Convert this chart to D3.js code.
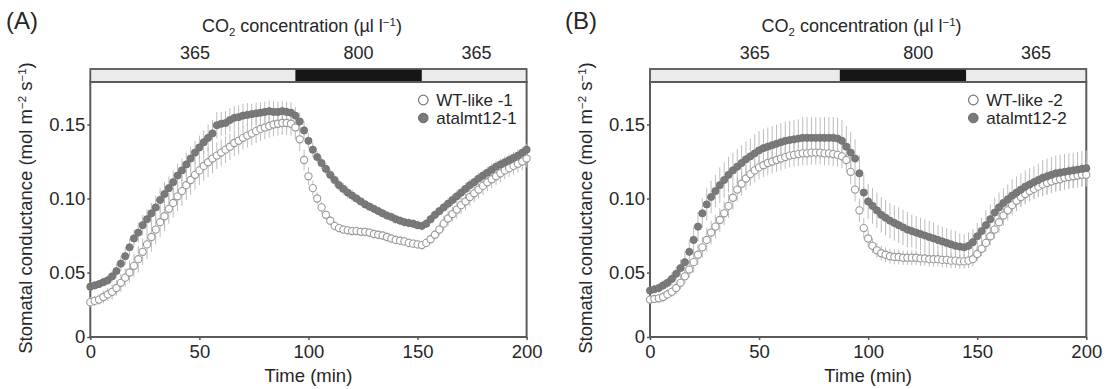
<!DOCTYPE html>
<html><head><meta charset="utf-8">
<script src="https://cdn.jsdelivr.net/npm/d3@7"></script>
<style>body{margin:0;background:#fff} text{font-family:"Liberation Sans",Arial,sans-serif;fill:#262626}</style>
</head><body><svg id="c" width="1108" height="389"></svg>
<script>
// sampling times (min)
const time = d3.range(0, 201, 2);
const xTicks = [0, 50, 100, 150, 200];
const yTicks = [0, 0.05, 0.10, 0.15];
const co2Labels = ["365", "800", "365"];

// Panel A
const mutA = [.039,.040,.041,.0425,.044,.047,.051,.056,.061,.067,
 .073,.077,.082,.086,.090,.094,.099,.103,.107,.111,
 .1155,.119,.123,.127,.131,.1345,.138,.141,.144,.1495,
 .1505,.151,.153,.1545,.155,.156,.1565,.157,.1575,.158,
 .1585,.159,.1585,.1585,.159,.1585,.158,.156,.152,.146,
 .139,.133,.128,.124,.120,.116,.1125,.109,.1065,.104,
 .102,.100,.098,.096,.0945,.093,.0915,.090,.0885,.0875,
 .086,.085,.084,.0835,.083,.082,.0815,.083,.086,.089,
 .0915,.094,.0965,.099,.1015,.104,.1065,.109,.111,.1135,
 .1155,.1175,.1195,.1215,.123,.1245,.126,.1275,.129,.131,
 .133];
const wtA = [.027,.028,.029,.031,.033,.035,.038,.042,.046,.050,
 .0545,.059,.064,.069,.074,.079,.084,.088,.093,.097,
 .1015,.105,.109,.1125,.116,.119,.122,.1245,.127,.129,
 .131,.133,.135,.1375,.139,.141,.1425,.144,.1455,.147,
 .148,.149,.150,.1505,.151,.151,.1505,.148,.140,.126,
 .115,.107,.100,.094,.089,.085,.0815,.080,.079,.0785,
 .078,.078,.0775,.0775,.077,.076,.0755,.075,.074,.073,
 .072,.0715,.071,.070,.0695,.069,.0685,.070,.0725,.0755,
 .079,.083,.0865,.0895,.0925,.0955,.098,.101,.1035,.106,
 .1085,.111,.113,.115,.117,.119,.1205,.122,.1235,.125,
 .127];
const errMutA = [.003,.003,.003,.003,.004,.004,.005,.005,.006,.006,
 .006,.007,.007,.007,.007,.008,.008,.008,.008,.008,
 .008,.008,.008,.008,.008,.008,.008,.009,.009,.009,
 .008,.008,.008,.008,.008,.008,.008,.007,.007,.007,
 .007,.007,.007,.007,.007,.007,.007,.006,.006,.006,
 .005,.005,.004,.004,.004,.004,.004,.004,.004,.004,
 .004,.003,.003,.003,.003,.003,.003,.003,.003,.003,
 .003,.003,.003,.003,.003,.003,.003,.003,.003,.003,
 .003,.003,.004,.004,.004,.004,.004,.004,.004,.004,
 .004,.004,.004,.004,.004,.004,.004,.004,.004,.004,
 .004];
const errWtA = [.004,.004,.004,.005,.005,.006,.006,.007,.007,.008,
 .008,.009,.009,.010,.010,.010,.010,.010,.010,.010,
 .010,.010,.010,.010,.010,.010,.010,.010,.010,.009,
 .009,.009,.009,.009,.009,.008,.008,.008,.008,.008,
 .008,.008,.008,.008,.008,.008,.008,.008,.008,.007,
 .006,.005,.004,.004,.003,.003,.003,.003,.003,.003,
 .003,.003,.003,.003,.003,.003,.003,.003,.003,.003,
 .003,.003,.003,.003,.003,.003,.003,.003,.003,.003,
 .004,.005,.005,.005,.006,.006,.006,.006,.006,.006,
 .006,.006,.006,.006,.006,.006,.006,.006,.006,.006,
 .006];

// Panel B
const mutB = [.036,.037,.038,.040,.042,.045,.049,.053,.057,.064,
 .072,.081,.090,.096,.101,.105,.109,.1125,.116,.119,
 .1215,.124,.1265,.1285,.1305,.1325,.134,.135,.136,.137,
 .138,.139,.1395,.140,.1405,.141,.141,.141,.141,.141,
 .141,.141,.141,.1405,.139,.135,.131,.127,.117,.104,
 .098,.095,.092,.089,.087,.085,.0835,.082,.0805,.079,
 .078,.077,.076,.075,.074,.073,.072,.071,.070,.069,
 .068,.0675,.067,.068,.0705,.0745,.078,.082,.086,.0905,
 .094,.097,.0995,.102,.104,.106,.108,.1095,.111,.1125,
 .114,.115,.116,.117,.1175,.118,.1185,.119,.1195,.120,
 .1205];
const wtB = [.029,.0295,.030,.031,.033,.035,.038,.042,.047,.052,
 .057,.062,.067,.072,.077,.081,.0855,.090,.095,.1005,
 .106,.110,.1135,.1165,.119,.121,.1225,.124,.125,.126,
 .127,.128,.129,.1295,.130,.1305,.1305,.131,.131,.131,
 .1305,.1305,.130,.1295,.1285,.126,.118,.106,.092,.080,
 .073,.068,.065,.063,.062,.061,.0605,.0605,.060,.060,
 .060,.060,.0595,.0595,.059,.059,.059,.0585,.0585,.058,
 .058,.0575,.0575,.058,.059,.0625,.066,.070,.0745,.079,
 .084,.0885,.092,.0955,.0985,.101,.103,.105,.1065,.108,
 .1095,.1105,.1115,.1125,.113,.114,.1145,.115,.1155,.116,
 .116];
const errMutB = [.003,.003,.004,.004,.004,.005,.005,.006,.007,.008,
 .009,.010,.010,.011,.011,.011,.012,.012,.012,.012,
 .012,.012,.012,.012,.013,.013,.013,.013,.013,.013,
 .013,.013,.013,.013,.013,.014,.014,.014,.014,.014,
 .014,.014,.014,.014,.014,.014,.014,.013,.012,.012,
 .012,.012,.012,.012,.012,.012,.012,.012,.012,.012,
 .011,.011,.011,.011,.011,.011,.010,.010,.010,.010,
 .010,.009,.009,.009,.009,.009,.009,.010,.010,.010,
 .010,.010,.010,.011,.011,.011,.011,.011,.011,.011,
 .012,.012,.012,.012,.012,.012,.012,.012,.012,.012,
 .012];
const errWtB = [.003,.003,.003,.004,.004,.004,.005,.005,.006,.006,
 .007,.007,.007,.008,.008,.008,.008,.008,.008,.008,
 .008,.008,.008,.008,.008,.008,.008,.008,.008,.008,
 .008,.008,.008,.008,.008,.008,.008,.008,.008,.008,
 .008,.008,.008,.008,.008,.008,.008,.008,.008,.007,
 .006,.005,.005,.005,.005,.005,.005,.005,.005,.005,
 .005,.005,.005,.005,.005,.005,.005,.005,.005,.005,
 .005,.005,.005,.005,.005,.005,.005,.006,.006,.006,
 .007,.007,.007,.007,.007,.007,.007,.007,.007,.007,
 .008,.008,.008,.008,.008,.008,.008,.008,.008,.008,
 .008];

const co2SegA = [0, 94, 152, 200];
const co2SegB = [0, 87, 145, 200];
const co2LabelPos = [48, 123, 177];

const panels = [
  {tag:"(A)", x0:90.3, wt:wtA, mut:mutA, ewt:errWtA, emut:errMutA, seg:co2SegA,
   names:["WT-like -1","atalmt12-1"], legX:423.3, tagX:6},
  {tag:"(B)", x0:650, wt:wtB, mut:mutB, ewt:errWtB, emut:errMutB, seg:co2SegB,
   names:["WT-like -2","atalmt12-2"], legX:973.3, tagX:565}
];

const svg = d3.select("#c");
const W = 436.3, yTop = 82, barTop = 69;

panels.forEach(p => {
  const x = d3.scaleLinear().domain([0, 200]).range([p.x0, p.x0 + W]);
  const y = d3.scaleLinear().domain([0, 0.05, 0.15]).range([337, 272.5, 124.5]);
  const yBot = y(0);
  const g = svg.append("g");

  // panel tag
  g.append("text").attr("x", p.tagX).attr("y", 29).attr("font-size", 24).text(p.tag);

  // CO2 title
  const t = g.append("text").attr("x", x(97)).attr("y", 32).attr("font-size", 18)
    .attr("text-anchor", "middle");
  t.append("tspan").text("CO");
  t.append("tspan").attr("font-size", 11.5).attr("dy", 4).text("2");
  t.append("tspan").attr("dy", -4).text(" concentration (µl l");
  t.append("tspan").attr("font-size", 11.5).attr("dy", -6).text("−1");
  t.append("tspan").attr("dy", 6).text(")");

  // CO2 labels
  co2Labels.forEach((l, i) => {
    g.append("text").attr("x", x(co2LabelPos[i])).attr("y", 59).attr("font-size", 18)
      .attr("text-anchor", "middle").text(l);
  });

  // CO2 bar
  for (let i = 0; i < 3; i++) {
    g.append("rect").attr("x", x(p.seg[i])).attr("y", barTop)
      .attr("width", x(p.seg[i+1]) - x(p.seg[i])).attr("height", yTop - barTop)
      .attr("fill", i === 1 ? "#161616" : "#ebebeb");
  }
  g.append("rect").attr("x", x(0)).attr("y", barTop).attr("width", W).attr("height", yTop - barTop)
    .attr("fill", "none").attr("stroke", "#555").attr("stroke-width", 1.8);

  // frame
  g.append("rect").attr("x", x(0)).attr("y", yTop).attr("width", W).attr("height", yBot - yTop)
    .attr("fill", "none").attr("stroke", "#5a5a5a").attr("stroke-width", 2);

  // axes
  const xa = g.append("g").attr("transform", `translate(0,${yBot})`)
    .call(d3.axisBottom(x).tickValues(xTicks).tickSize(3).tickPadding(5));
  const ya = g.append("g").attr("transform", `translate(${x(0)},0)`)
    .call(d3.axisLeft(y).tickValues(yTicks).tickSize(3).tickPadding(2)
      .tickFormat(d => d === 0 ? "0" : d3.format(".2f")(d)));
  [xa, ya].forEach(a => {
    a.select(".domain").remove();
    a.selectAll("line").attr("stroke", "#555").attr("stroke-width", 1.5);
    a.selectAll("text").attr("font-size", 18.5).attr("font-family", "Liberation Sans, Arial, sans-serif").attr("fill", "#262626");
  });

  // axis titles
  g.append("text").attr("x", x(100)).attr("y", 382).attr("font-size", 18.5)
    .attr("text-anchor", "middle").text("Time (min)");
  const yl = g.append("text").attr("transform", `translate(${p.x0 - 58},208) rotate(-90)`)
    .attr("font-size", 18.5).attr("text-anchor", "middle");
  yl.append("tspan").text("Stomatal conductance (mol m");
  yl.append("tspan").attr("font-size", 11.5).attr("dy", -6).text("−2");
  yl.append("tspan").attr("dy", 6).text(" s");
  yl.append("tspan").attr("font-size", 11.5).attr("dy", -6).text("−1");
  yl.append("tspan").attr("dy", 6).text(")");

  // error bars
  const series = [
    {v:p.wt, e:p.ewt}, {v:p.mut, e:p.emut}
  ];
  series.forEach(s => {
    g.append("g").selectAll("line").data(time).join("line")
      .attr("x1", (d) => x(d)).attr("x2", (d) => x(d))
      .attr("y1", (d, i) => y(s.v[i] - s.e[i])).attr("y2", (d, i) => y(s.v[i] + s.e[i]))
      .attr("stroke", "#bdbdbd").attr("stroke-width", 1);
  });

  // markers
  g.append("g").selectAll("circle").data(time).join("circle")
    .attr("cx", d => x(d)).attr("cy", (d, i) => y(p.wt[i])).attr("r", 3.6)
    .attr("fill", "#fff").attr("stroke", "#9a9a9a").attr("stroke-width", 1.1);
  g.append("g").selectAll("circle").data(time).join("circle")
    .attr("cx", d => x(d)).attr("cy", (d, i) => y(p.mut[i])).attr("r", 3.6)
    .attr("fill", "#7a7a7a").attr("stroke", "#6e6e6e").attr("stroke-width", 0.8);

  // legend
  g.append("circle").attr("cx", p.legX).attr("cy", 100).attr("r", 4.8)
    .attr("fill", "#fff").attr("stroke", "#777").attr("stroke-width", 1.2);
  g.append("circle").attr("cx", p.legX).attr("cy", 118).attr("r", 4.8)
    .attr("fill", "#7a7a7a").attr("stroke", "#6a6a6a");
  g.append("text").attr("x", p.legX + 13).attr("y", 105.5).attr("font-size", 17).text(p.names[0]);
  g.append("text").attr("x", p.legX + 13).attr("y", 123.5).attr("font-size", 17).text(p.names[1]);
});
</script></body></html>
